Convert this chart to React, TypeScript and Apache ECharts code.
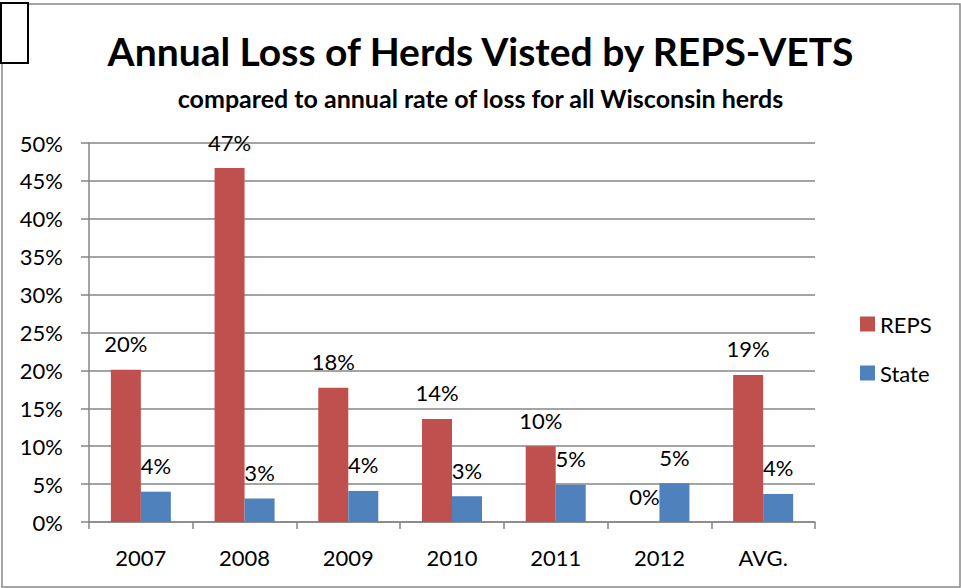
import React, { useEffect, useRef } from "react";
import * as echarts from "echarts";

const categories = ["2007", "2008", "2009", "2010", "2011", "2012", "AVG."];
const repsValues = [20.1, 46.7, 17.7, 13.6, 10.0, 0, 19.4];
const stateValues = [4.0, 3.1, 4.1, 3.4, 4.9, 5.1, 3.7];
const yTicks = [0, 5, 10, 15, 20, 25, 30, 35, 40, 45, 50];

const FONT = "Lato";

export default function App() {
  const ref = useRef<HTMLDivElement>(null);
  useEffect(() => {
    document.body.style.margin = "0";
    const chart = echarts.init(ref.current!, null, { renderer: "svg" });
    const labelStyle = {
      show: true,
      position: "top" as const,
      distance: 15,
      color: "#000",
      fontFamily: FONT,
      fontSize: 22,
      formatter: (p: any) => Math.round(p.value) + "%",
    };
    chart.setOption({
      animation: false,
      backgroundColor: "#fff",
      textStyle: { fontFamily: FONT },
      title: [
        {
          text: "Annual Loss of Herds Visted by REPS-VETS",
          left: "center",
          top: 26,
          textStyle: { fontFamily: FONT, fontWeight: "bold", fontSize: 39, color: "#000" },
        },
        {
          text: "compared to annual rate of loss for all Wisconsin herds",
          left: "center",
          top: 80,
          textStyle: { fontFamily: FONT, fontWeight: "bold", fontSize: 25, color: "#000" },
        },
      ],
      legend: {
        orient: "vertical",
        left: 855,
        top: 308,
        itemWidth: 15,
        itemHeight: 15,
        itemGap: 27,
        icon: "rect",
        textStyle: { fontFamily: FONT, fontSize: 22, color: "#000", padding: [0, 0, 0, 0] },
        data: ["REPS", "State"],
      },
      grid: { left: 89, right: 146, top: 143, bottom: 66, containLabel: false },
      xAxis: {
        type: "category",
        data: categories,
        axisLine: { show: true, lineStyle: { color: "#868686", width: 1.5 } },
        axisTick: { show: true, length: 7, lineStyle: { color: "#868686", width: 1.5 } },
        axisLabel: { color: "#000", fontFamily: FONT, fontSize: 22, margin: 24 },
      },
      yAxis: {
        type: "value",
        min: yTicks[0],
        max: yTicks[yTicks.length - 1],
        interval: 5,
        axisLine: { show: true, lineStyle: { color: "#868686", width: 1.5 } },
        axisTick: { show: true, length: 8, lineStyle: { color: "#868686", width: 1.5 } },
        axisLabel: { color: "#000", fontFamily: FONT, fontSize: 22, margin: 26, formatter: "{value}%" },
        splitLine: { show: true, lineStyle: { color: "#868686", width: 1.5 } },
      },
      series: [
        {
          name: "REPS",
          type: "bar",
          data: repsValues,
          barWidth: 30,
          barGap: "0%",
          itemStyle: { color: "#C0504D" },
          label: labelStyle,
        },
        {
          name: "State",
          type: "bar",
          data: stateValues,
          barWidth: 30,
          itemStyle: { color: "#4F81BD" },
          label: labelStyle,
        },
      ],
      graphic: [
        {
          type: "rect",
          shape: { x: 2, y: 4, width: 958, height: 583 },
          style: { fill: "none", stroke: "#888", lineWidth: 1.5 },
          z: 100,
        },
        {
          type: "rect",
          shape: { x: 1, y: 3, width: 27, height: 60 },
          style: { fill: "#fff", stroke: "#000", lineWidth: 2 },
          z: 101,
        },
      ],
    });
    return () => chart.dispose();
  }, []);
  return <div ref={ref} style={{ width: 961, height: 588 }} />;
}
